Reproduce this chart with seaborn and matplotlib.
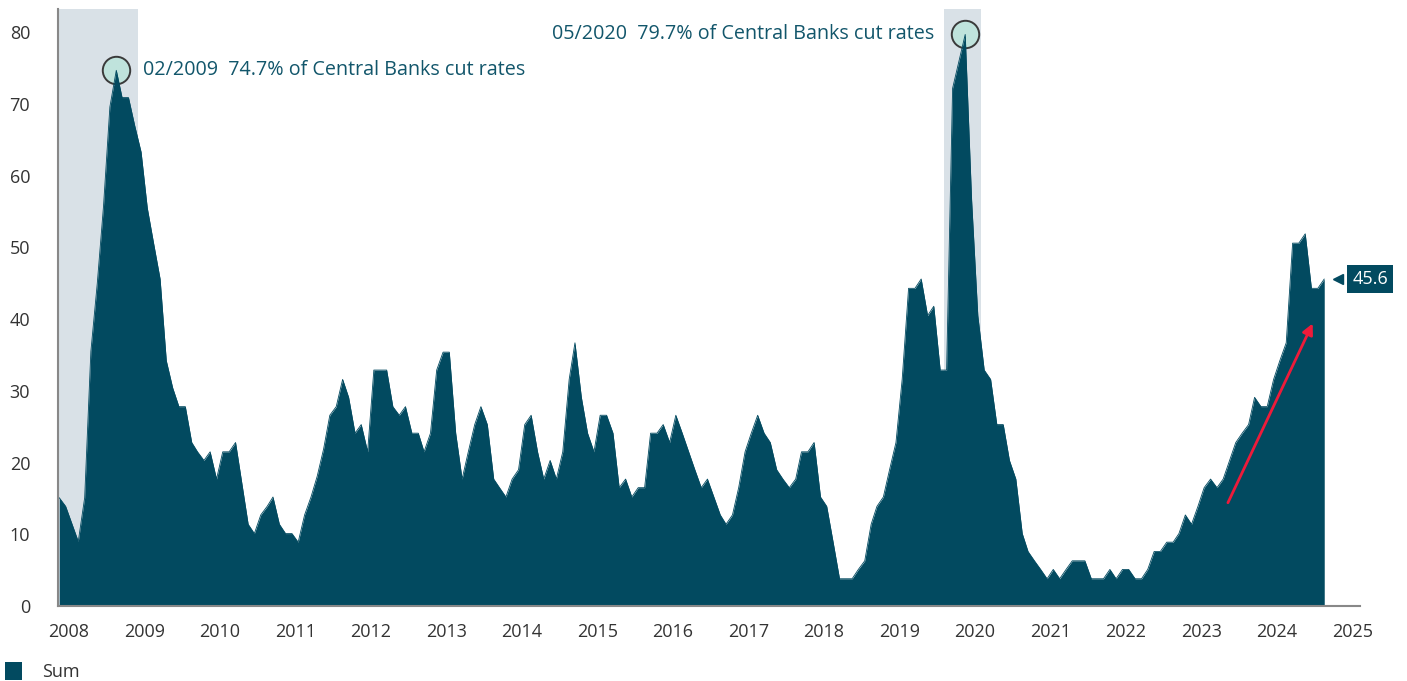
import pandas as pd
import numpy as np
import matplotlib
matplotlib.use('Agg')
import matplotlib.pyplot as plt
import matplotlib.dates as mdates
import matplotlib.transforms as mtransforms
from matplotlib.patches import Patch
import seaborn as sns

# Monthly share of central banks cutting rates (%), May 2008 - Feb 2025
start_month = '2008-05-01'
values = [
    15.1, 13.9, 11.5, 9.0, 15.1, 35.5, 45.0, 55.7,                      # 2008
    69.6, 74.7, 70.9, 70.9, 67.0, 63.3, 55.5, 50.5, 45.6, 34.2, 30.4, 27.8,  # 2009
    27.8, 22.8, 21.5, 20.3, 21.5, 17.7, 21.5, 21.5, 22.8, 17.2, 11.4, 10.1,  # 2010
    12.7, 13.9, 15.2, 11.4, 10.1, 10.1, 8.9, 12.7, 15.2, 18.1, 21.9, 26.6,   # 2011
    27.8, 31.6, 29.1, 24.1, 25.3, 21.5, 32.9, 32.9, 32.9, 27.8, 26.6, 27.8,  # 2012
    24.1, 24.1, 21.5, 24.1, 32.9, 35.4, 35.4, 24.1, 17.7, 21.5, 25.3, 27.8,  # 2013
    25.3, 17.7, 16.5, 15.2, 17.7, 19.0, 25.3, 26.6, 21.5, 17.7, 20.3, 17.7,  # 2014
    21.5, 31.6, 36.7, 29.1, 24.1, 21.5, 26.6, 26.6, 24.1, 16.5, 17.7, 15.2,  # 2015
    16.5, 16.5, 24.1, 24.1, 25.3, 22.8, 26.6, 24.1, 21.5, 19.0, 16.5, 17.7,  # 2016
    15.2, 12.7, 11.4, 12.7, 16.5, 21.5, 24.1, 26.6, 24.1, 22.8, 19.0, 17.7,  # 2017
    16.5, 17.7, 21.5, 21.5, 22.8, 15.2, 13.9, 8.9, 3.8, 3.8, 3.8, 5.1,       # 2018
    6.3, 11.4, 13.9, 15.2, 19.0, 22.8, 31.6, 44.3, 44.3, 45.6, 40.5, 41.8,   # 2019
    32.9, 32.9, 72.2, 76.0, 79.7, 56.6, 40.5, 32.9, 31.6, 25.3, 25.3, 20.3,  # 2020
    17.7, 10.1, 7.6, 6.3, 5.1, 3.8, 5.1, 3.8, 5.1, 6.3, 6.3, 6.3,            # 2021
    3.8, 3.8, 3.8, 5.1, 3.8, 5.1, 5.1, 3.8, 3.8, 5.1, 7.6, 7.6,              # 2022
    8.9, 8.9, 10.1, 12.7, 11.4, 13.9, 16.5, 17.7, 16.5, 17.7, 20.3, 22.8,    # 2023
    24.1, 25.3, 29.1, 27.8, 27.8, 31.6, 34.2, 36.7, 50.6, 50.6, 51.9, 44.3,  # 2024
    44.3, 45.6,                                                          # 2025
]

# highlighted easing episodes
shade_periods = [('2008-01-01', '2009-06-01'), ('2020-02-01', '2020-08-01')]

# peak annotations
peak_months = ['2009-02', '2020-05']
peak_texts = ['02/2009  74.7% of Central Banks cut rates',
              '05/2020  79.7% of Central Banks cut rates']

# trend arrow (start, end)
arrow_start = ('2023-11-07', 14.4)
arrow_end = ('2024-12-21', 39.4)

teal = '#024A60'
shade = '#D9E1E7'
text_teal = '#12566B'
grey_txt = '#333333'

dates = pd.date_range(start_month, periods=len(values), freq='MS') + pd.Timedelta(days=14)
df = pd.DataFrame({'date': dates, 'value': values})

sns.set_style('white')
plt.rcParams['font.family'] = ['Open Sans', 'DejaVu Sans']

fig = plt.figure(figsize=(14.07, 6.81), dpi=100)
ax = fig.add_axes([58 / 1407, 1 - 606 / 681, (1360 - 58) / 1407, (606 - 9) / 681])

# shaded periods
for s, e in shade_periods:
    ax.axvspan(pd.Timestamp(s), pd.Timestamp(e), color=shade, lw=0, zorder=0)

# peak circles (drawn under the area)
for pm in peak_months:
    row = df[df['date'].dt.strftime('%Y-%m') == pm].iloc[0]
    ax.scatter([row['date']], [row['value']], s=390, facecolor='#BFE3DC',
               edgecolor='#3a3a3a', linewidth=1.4, zorder=1)

# area chart
sns.lineplot(data=df, x='date', y='value', color=teal, lw=0.6, ax=ax, zorder=2)
ax.fill_between(df['date'], df['value'], 0, color=teal, lw=0, zorder=2)

# peak texts
r1 = df[df['date'].dt.strftime('%Y-%m') == peak_months[0]].iloc[0]
ax.annotate(peak_texts[0], xy=(r1['date'], r1['value']), xytext=(19, 0),
            textcoords='offset points', ha='left', va='center',
            fontsize=14.2, color=text_teal, zorder=5)
r2 = df[df['date'].dt.strftime('%Y-%m') == peak_months[1]].iloc[0]
ax.annotate(peak_texts[1], xy=(r2['date'], r2['value']), xytext=(-22, 0),
            textcoords='offset points', ha='right', va='center',
            fontsize=14.2, color=text_teal, zorder=5)

# red trend arrow
ax.annotate('', xy=(pd.Timestamp(arrow_end[0]), arrow_end[1]),
            xytext=(pd.Timestamp(arrow_start[0]), arrow_start[1]),
            arrowprops=dict(arrowstyle='-|>', color='#EE1B3A', lw=2,
                            mutation_scale=16, shrinkA=0, shrinkB=0),
            zorder=6)

# last value label
last = df.iloc[-1]
ax.annotate(f"{last['value']:.1f}", xy=(last['date'], last['value']),
            xytext=(33, 0), textcoords='offset points', ha='center', va='center',
            fontsize=13, color='white',
            bbox=dict(boxstyle='square,pad=0.3', fc=teal, ec='none'),
            annotation_clip=False, zorder=6)
ptr = mtransforms.offset_copy(ax.transData, fig=fig, x=14, y=0, units='dots')
ax.plot([last['date']], [last['value']], marker='<', ms=7, color=teal,
        transform=ptr, clip_on=False, zorder=6)

# axes formatting
ax.set_xlim(pd.Timestamp('2008-05-09'), pd.Timestamp('2025-08-07'))
ax.set_ylim(0, 83.25)
ax.set_yticks(np.arange(0, 81, 10))
ax.xaxis.set_major_locator(mdates.YearLocator())
ax.xaxis.set_major_formatter(plt.NullFormatter())
ax.xaxis.set_minor_locator(mdates.MonthLocator(bymonth=7))
ax.xaxis.set_minor_formatter(mdates.DateFormatter('%Y'))
ax.tick_params(axis='x', which='major', length=5, width=1.2, color='#666666', direction='out')
ax.tick_params(axis='x', which='minor', length=0, pad=12, labelsize=13, labelcolor=grey_txt)
ax.tick_params(axis='y', length=9, width=1.2, color='#222222', pad=11,
               labelsize=13, labelcolor=grey_txt)
ax.set_xlabel('')
ax.set_ylabel('')
for side in ['top', 'right']:
    ax.spines[side].set_visible(False)
for side in ['left', 'bottom']:
    ax.spines[side].set_color('#888888')
    ax.spines[side].set_linewidth(1.5)
ax.grid(False)

# legend
fig.legend(handles=[Patch(facecolor=teal, edgecolor='none', label='Sum')],
           loc='lower left', bbox_to_anchor=(-0.004, -0.016), frameon=False,
           fontsize=13, handlelength=0.95, handleheight=1.2, handletextpad=1.1,
           borderaxespad=0.2, labelcolor=grey_txt)

fig.savefig('out.png', dpi=100)
